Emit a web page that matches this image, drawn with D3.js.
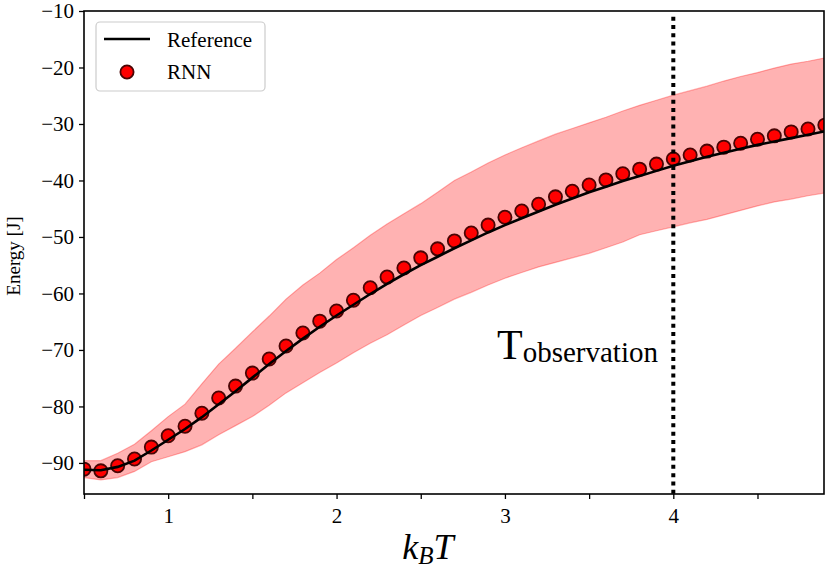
<!DOCTYPE html>
<html lang="en">
<head>
<meta charset="utf-8">
<title>Energy vs temperature</title>
<script src="https://cdn.jsdelivr.net/npm/d3@7"></script>
<style>
  body { margin: 0; background: #fff; }
  svg text { font-family: "Liberation Serif", "Times New Roman", serif; }
</style>
</head>
<body>
<div id="chart"></div>
<script>
// temperatures k_B T
var temps = [0.5,0.6,0.7,0.8,0.9,1.0,1.1,1.2,1.3,1.4,1.5,1.6,1.7,1.8,1.9,2.0,2.1,2.2,2.3,2.4,
             2.5,2.6,2.7,2.8,2.9,3.0,3.1,3.2,3.3,3.4,3.5,3.6,3.7,3.8,3.9,4.0,4.1,4.2,4.3,4.4,
             4.5,4.6,4.7,4.8,4.9]
var reference = [-91.2,-91.3,-90.7,-89.6,-87.8,-85.9,-84.0,-81.9,-79.6,-77.3,-74.9,-72.5,-70.2,-68.0,-65.9,
                 -63.9,-62.0,-60.1,-58.3,-56.6,-55.0,-53.5,-52.0,-50.6,-49.2,-47.9,-46.7,-45.5,-44.3,-43.2,
                 -42.1,-41.1,-40.1,-39.2,-38.3,-37.4,-36.6,-35.8,-35.1,-34.4,-33.7,-33.1,-32.5,-31.9,-31.3]
var rnn = [-91.1,-91.4,-90.5,-89.3,-87.2,-85.2,-83.5,-81.2,-78.5,-76.4,-74.1,-71.6,-69.3,-67.0,-64.9,
           -63.1,-61.2,-59.0,-57.1,-55.5,-53.7,-52.1,-50.7,-49.3,-47.9,-46.5,-45.4,-44.2,-42.9,-41.9,
           -40.8,-39.9,-38.8,-38.0,-37.1,-36.2,-35.5,-34.8,-34.1,-33.4,-32.7,-32.1,-31.4,-30.9,-30.2]
var rnnUpper = [-89.6,-89.6,-88.3,-86.7,-84.3,-81.8,-79.6,-76.0,-72.5,-69.7,-66.8,-64.0,-61.0,-58.5,-56.4,
                -54.0,-51.9,-49.7,-47.7,-45.9,-44.1,-42.1,-40.0,-38.5,-36.9,-35.5,-34.2,-33.0,-31.8,-30.8,
                -29.8,-28.8,-27.7,-26.7,-25.8,-24.9,-24.1,-23.3,-22.4,-21.6,-20.9,-20.1,-19.4,-18.9,-18.3]
var rnnLower = [-92.6,-93.0,-92.6,-91.5,-89.8,-88.9,-88.0,-86.8,-85.0,-83.4,-81.8,-79.8,-77.6,-75.8,-74.0,
                -72.3,-70.5,-68.8,-67.3,-65.6,-63.9,-62.5,-61.0,-59.8,-58.5,-57.3,-56.3,-55.3,-54.5,-53.7,
                -52.9,-51.9,-50.9,-49.6,-48.9,-48.2,-47.5,-46.9,-46.1,-45.3,-44.5,-43.8,-43.3,-42.7,-42.2]
var xTicks = [0.5,1,1.5,2,2.5,3,3.5,4,4.5]
var yTicks = [-90,-80,-70,-60,-50,-40,-30,-20,-10]
var tObservation = 4

var width = 830, height = 571
var margin = {left:84, right:6, top:11, bottom:77}
var serif = "'Liberation Serif', 'Times New Roman', serif"

var rows = temps.map(function(t,i){
  return {t:t, ref:reference[i], rnn:rnn[i], hi:rnnUpper[i], lo:rnnLower[i]}
})

var svg = d3.select("#chart").append("svg").attr("width",width).attr("height",height)

var x = d3.scaleLinear().domain([0.5,4.895]).range([margin.left,width-margin.right])
var y = d3.scaleLinear().domain([-95.5,-10]).range([height-margin.bottom,margin.top])

svg.append("clipPath").attr("id","plot")
  .append("rect")
  .attr("x",margin.left).attr("y",margin.top)
  .attr("width",width-margin.left-margin.right)
  .attr("height",height-margin.top-margin.bottom)

var plot = svg.append("g").attr("clip-path","url(#plot)")

// uncertainty band
plot.append("path")
  .datum(rows)
  .attr("fill","#ff0000").attr("fill-opacity",0.3)
  .attr("stroke","#ff0000").attr("stroke-opacity",0.3).attr("stroke-width",1.2)
  .attr("d",d3.area().x(function(d){return x(d.t)}).y0(function(d){return y(d.lo)}).y1(function(d){return y(d.hi)}))

// RNN points
plot.selectAll("circle.rnn")
  .data(rows)
  .enter()
  .append("circle")
  .attr("class","rnn")
  .attr("cx",function(d){return x(d.t)})
  .attr("cy",function(d){return y(d.rnn)})
  .attr("r",6.6)
  .attr("fill","#ff0000")
  .attr("stroke","#4a0505")
  .attr("stroke-width",1.8)

// reference line
plot.append("path")
  .datum(rows)
  .attr("fill","none").attr("stroke","#000").attr("stroke-width",2.6)
  .attr("d",d3.line().x(function(d){return x(d.t)}).y(function(d){return y(d.ref)}))

// observation temperature
plot.append("line")
  .attr("x1",x(tObservation)).attr("x2",x(tObservation))
  .attr("y1",y(-11)).attr("y2",y(-95.5))
  .attr("stroke","#000").attr("stroke-width",4)
  .attr("stroke-dasharray","4,4.3")

var obs = svg.append("text")
  .attr("x",497).attr("y",359)
  .attr("fill","#000").style("font-family",serif)
obs.append("tspan").attr("font-size",42).text("T")
obs.append("tspan").attr("font-size",29).attr("dy",3).text("observation")

// axes
var xAxis = svg.append("g")
  .attr("transform","translate(0,"+(height-margin.bottom)+")")
  .call(d3.axisBottom(x).tickValues(xTicks).tickSize(5).tickPadding(9)
    .tickFormat(function(d){return d%1===0 ? d : ""}))
var yAxis = svg.append("g")
  .attr("transform","translate("+margin.left+",0)")
  .call(d3.axisLeft(y).tickValues(yTicks).tickSize(5).tickPadding(5)
    .tickFormat(function(d){return "\u2212"+Math.abs(d)}))

;[xAxis,yAxis].forEach(function(a){
  a.attr("font-family",null).attr("font-size",null)
  a.select(".domain").remove()
  a.selectAll(".tick line").attr("stroke","#000").attr("stroke-width",1.3)
  a.selectAll(".tick text").attr("fill","#000")
    .style("font-family",serif).style("font-size","21px")
})

// frame
svg.append("rect")
  .attr("x",margin.left).attr("y",margin.top)
  .attr("width",width-margin.left-margin.right)
  .attr("height",height-margin.top-margin.bottom)
  .attr("fill","none").attr("stroke","#000").attr("stroke-width",1.6)

// axis labels
var xl = svg.append("text")
  .attr("x",428).attr("y",559).attr("text-anchor","middle")
  .attr("font-style","italic").attr("fill","#000").style("font-family",serif)
xl.append("tspan").attr("font-size",36).text("k")
xl.append("tspan").attr("font-size",25).attr("dy",5).text("B")
xl.append("tspan").attr("font-size",36).attr("dy",-5).text("T")

svg.append("text")
  .attr("transform","translate(20,256) rotate(-90)")
  .attr("text-anchor","middle").style("font-family",serif)
  .attr("font-size",19).attr("fill","#000")
  .text("Energy [J]")

// legend
var legend = svg.append("g")
legend.append("rect")
  .attr("x",96).attr("y",22).attr("width",169).attr("height",69)
  .attr("rx",4).attr("fill","#fff").attr("fill-opacity",0.8)
  .attr("stroke","#cccccc").attr("stroke-width",1.2)
legend.append("line")
  .attr("x1",104).attr("x2",150).attr("y1",39).attr("y2",39)
  .attr("stroke","#000").attr("stroke-width",2.6)
legend.append("circle")
  .attr("cx",127).attr("cy",72).attr("r",6.6)
  .attr("fill","#ff0000").attr("stroke","#4a0505").attr("stroke-width",1.8)
legend.append("text").attr("x",167).attr("y",47).attr("font-size",21).style("font-family",serif).text("Reference")
legend.append("text").attr("x",167).attr("y",79).attr("font-size",21).style("font-family",serif).text("RNN")
</script>
</body>
</html>
